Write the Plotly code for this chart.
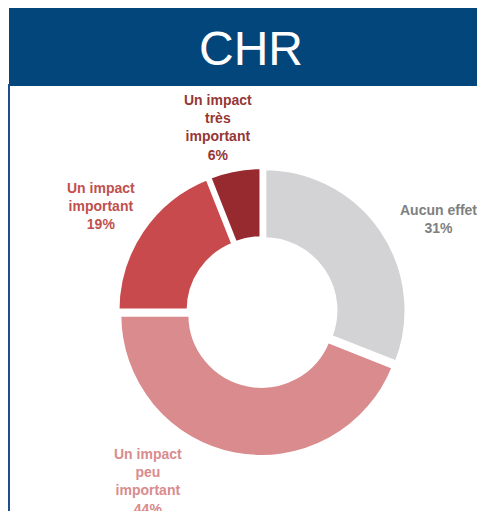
import plotly.graph_objects as go

# ---- data ----
categories = ["Aucun effet", "Un impact peu important", "Un impact important", "Un impact très important"]
label_text = ["Aucun effet", "Un impact<br>peu<br>important", "Un impact<br>important", "Un impact<br>très<br>important"]
values = [31, 44, 19, 6]
title_text = "CHR"

# ---- styles ----
slice_colors = ["#D3D3D5", "#D98B8D", "#C84A4D", "#962A2E"]
label_colors = ["#7F7F7F", "#D98B8D", "#C0504D", "#953735"]
OFF = 8  # page body margin
label_pos = [(438 - OFF, 219 - OFF), (148 - OFF, 481 - OFF),
             (101 - OFF, 206 - OFF), (218 - OFF, 127 - OFF)]  # pixel centres in figure

W, H = 485, 511
cx, cy, half = 262 - OFF, 312 - OFF, 145

fig = go.Figure()
fig.add_trace(go.Pie(
    labels=categories,
    values=values,
    sort=False,
    direction="clockwise",
    rotation=0,
    hole=0.5,
    pull=[0.02] * len(values),
    marker=dict(colors=slice_colors, line=dict(color="white", width=4)),
    textinfo="none",
    hoverinfo="label+percent",
    showlegend=False,
    domain=dict(x=[(cx - half) / W, (cx + half) / W],
                y=[(H - cy - half) / H, (H - cy + half) / H]),
))

for txt, v, col, (px, py) in zip(label_text, values, label_colors, label_pos):
    fig.add_annotation(
        x=px / W, y=1 - py / H, xref="paper", yref="paper",
        xanchor="center", yanchor="middle", showarrow=False,
        text=f"<b>{txt}<br>{v}%</b>", align="center",
        font=dict(family="Liberation Sans, Arial, sans-serif", size=14, color=col),
    )

# header band
fig.add_shape(type="rect", xref="paper", yref="paper",
              x0=1 / W, x1=1, y0=1 - 78 / H, y1=1,
              fillcolor="#03467C", line=dict(width=0), layer="below")
fig.add_shape(type="line", xref="paper", yref="paper",
              x0=1 / W, x1=1 / W, y0=0, y1=1 - 76 / H,
              line=dict(color="#1D4F8E", width=2))
fig.add_annotation(x=(251 - OFF) / W, y=1 - (48 - OFF) / H, xref="paper", yref="paper",
                   xanchor="center", yanchor="middle", showarrow=False,
                   text=title_text,
                   font=dict(family="Liberation Sans, Arial, sans-serif", size=48, color="white"))

fig.update_layout(
    width=W, height=H,
    margin=dict(l=0, r=0, t=0, b=0),
    paper_bgcolor="white", plot_bgcolor="white",
)

fig.write_html("out.html")
